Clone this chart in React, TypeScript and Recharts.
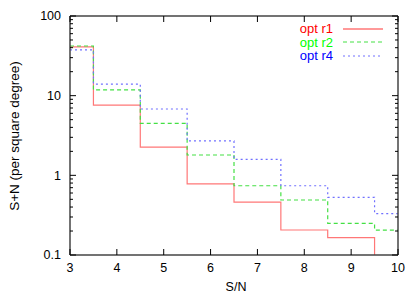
import React from 'react';
import { LineChart, Line, XAxis, YAxis } from 'recharts';

// bin edges along S/N (step changes happen at these points)
const edges = [3, 3.5, 4.5, 5.5, 6.5, 7.5, 8.5, 9.5, 10];
// values per bin (8 bins); last value repeated for the closing edge at 10
const optR1 = [41, 7.6, 2.26, 0.78, 0.46, 0.206, 0.165, 0.05];
const optR2 = [42, 11.8, 4.5, 1.8, 0.74, 0.49, 0.25, 0.205];
const optR4 = [37.5, 14.0, 6.8, 2.7, 1.59, 0.74, 0.53, 0.33];

const xTicks = [3, 4, 5, 6, 7, 8, 9, 10];
const yTicks = [
  0.1, 0.2, 0.3, 0.4, 0.5, 0.6, 0.7, 0.8, 0.9,
  1, 2, 3, 4, 5, 6, 7, 8, 9,
  10, 20, 30, 40, 50, 60, 70, 80, 90, 100,
];
const majorY = [0.1, 1, 10, 100];

const series = [
  { key: 'r1', name: 'opt r1', values: optR1, color: '#ff7777', text: '#ff0000', dash: undefined as string | undefined },
  { key: 'r2', name: 'opt r2', values: optR2, color: '#44e044', text: '#00ff00', dash: '4 3' },
  { key: 'r4', name: 'opt r4', values: optR4, color: '#7070ff', text: '#0000ff', dash: '2 3' },
];

const data = edges.map((x, i) => {
  const row: any = { x };
  series.forEach((s) => {
    row[s.key] = s.values[Math.min(i, s.values.length - 1)];
  });
  return row;
});

const FONT = '"Liberation Sans", Arial, Helvetica, sans-serif';
const MAJ = 6;
const MIN = 3;

const LeftTick = (props: any) => {
  const { x, y, payload } = props;
  const major = majorY.includes(payload.value);
  return (
    <g>
      <line x1={x} x2={x + (major ? MAJ : MIN)} y1={y} y2={y} stroke="#000" strokeWidth={1} />
      {major && (
        <text x={x - 9} y={y + 4.3} textAnchor="end" fontSize={12.5} fontFamily={FONT} fill="#000">
          {String(payload.value)}
        </text>
      )}
    </g>
  );
};

const RightTick = (props: any) => {
  const { x, y, payload } = props;
  const major = majorY.includes(payload.value);
  return <line x1={x} x2={x - (major ? MAJ : MIN)} y1={y} y2={y} stroke="#000" strokeWidth={1} />;
};

const BottomTick = (props: any) => {
  const { x, y, payload } = props;
  return (
    <g>
      <line x1={x} x2={x} y1={y} y2={y - MAJ} stroke="#000" strokeWidth={1} />
      <text x={x} y={y + 17} textAnchor="middle" fontSize={12.5} fontFamily={FONT} fill="#000">
        {String(payload.value)}
      </text>
    </g>
  );
};

const TopTick = (props: any) => {
  const { x, y } = props;
  return <line x1={x} x2={x} y1={y} y2={y + MAJ} stroke="#000" strokeWidth={1} />;
};

export default function App() {
  return (
    <div style={{ position: 'absolute', left: 0, top: 0, width: 407, height: 294, background: '#fff' }}>
      <LineChart width={407} height={294} data={data} margin={{ top: 15, right: 8, bottom: 0, left: 0 }}>
        <XAxis
          xAxisId="b"
          dataKey="x"
          type="number"
          domain={[3, 10]}
          ticks={xTicks}
          height={39}
          tickSize={0}
          tickMargin={0}
          tickLine={false}
          tick={<BottomTick />}
          stroke="#444"
          strokeWidth={1.5}
          interval={0}
        />
        <XAxis
          xAxisId="t"
          orientation="top"
          dataKey="x"
          type="number"
          domain={[3, 10]}
          ticks={xTicks}
          height={1}
          tickSize={0}
          tickMargin={0}
          tickLine={false}
          tick={<TopTick />}
          stroke="#444"
          strokeWidth={1.5}
          interval={0}
        />
        <YAxis
          yAxisId="l"
          scale="log"
          domain={[0.1, 100]}
          allowDataOverflow
          ticks={yTicks}
          width={70}
          tickSize={0}
          tickMargin={0}
          tickLine={false}
          tick={<LeftTick />}
          stroke="#444"
          strokeWidth={1.5}
          interval={0}
        />
        <YAxis
          yAxisId="r"
          orientation="right"
          scale="log"
          domain={[0.1, 100]}
          allowDataOverflow
          ticks={yTicks}
          width={1}
          tickSize={0}
          tickMargin={0}
          tickLine={false}
          tick={<RightTick />}
          stroke="#444"
          strokeWidth={1.5}
          interval={0}
        />
        {series.map((s) => (
          <Line
            key={s.key}
            xAxisId="b"
            yAxisId="l"
            dataKey={s.key}
            name={s.name}
            type="stepAfter"
            stroke={s.color}
            strokeWidth={1.2}
            strokeDasharray={s.dash}
            dot={false}
            activeDot={false}
            isAnimationActive={false}
          />
        ))}
      </LineChart>
      <div style={{ position: 'absolute', left: 263, top: 22, fontFamily: FONT, fontSize: 13 }}>
        {series.map((s) => (
          <div key={s.key} style={{ display: 'flex', alignItems: 'center', height: 13.5 }}>
            <span style={{ color: s.text, width: 70, textAlign: 'right', marginRight: 10 }}>{s.name}</span>
            <svg width={40} height={6}>
              <line x1={0} x2={40} y1={3} y2={3} stroke={s.color} strokeWidth={s.dash ? 1 : 1.6} strokeDasharray={s.dash} />
            </svg>
          </div>
        ))}
      </div>
      <div
        style={{
          position: 'absolute',
          left: 14,
          top: 136,
          transform: 'translate(-50%, -50%) rotate(-90deg)',
          whiteSpace: 'nowrap',
          fontFamily: FONT,
          fontSize: 13.5,
          color: '#000',
        }}
      >
        S+N (per square degree)
      </div>
      <div
        style={{
          position: 'absolute',
          left: 236,
          top: 287,
          transform: 'translate(-50%, -50%)',
          whiteSpace: 'nowrap',
          fontFamily: FONT,
          fontSize: 12.5,
          color: '#000',
        }}
      >
        S/N
      </div>
    </div>
  );
}
